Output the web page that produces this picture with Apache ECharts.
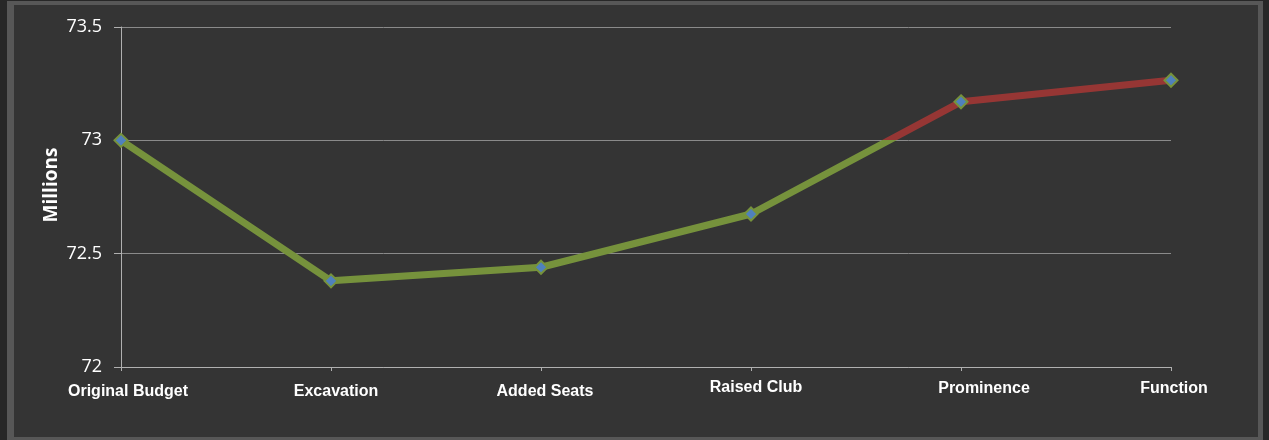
<!DOCTYPE html>
<html>
<head>
<meta charset="utf-8">
<script src="https://cdn.jsdelivr.net/npm/echarts@6/dist/echarts.min.js"></script>
<style>
html,body{margin:0;padding:0;background:#272727;}
#chart{width:1269px;height:440px;}
</style>
</head>
<body>
<div id="chart"></div>
<script>
const categories = ['Original Budget', 'Excavation', 'Added Seats', 'Raised Club', 'Prominence', 'Function'];
const budgetValues = [73.0, 72.38, 72.44, 72.675, 73.17, 73.265];
const yTicks = [72, 72.5, 73, 73.5];
const threshold = 73;

// label nudges (style only): [right shift, down shift] in px
const labelNudge = [[7, 4], [5, 4], [4, 4], [5, 0], [23, 1], [3, 1]];

const rich = {};
labelNudge.forEach(function (n, i) {
  rich['c' + i] = {
    color: '#ffffff', fontFamily: 'Liberation Sans', fontWeight: 'bold', fontSize: 16,
    padding: [n[1], 0, 0, n[0] * 2]
  };
});

const chart = echarts.init(document.getElementById('chart'));
chart.setOption({
  backgroundColor: '#272727',
  animation: false,
  graphic: [
    { type: 'rect', z: -10, shape: { x: 7, y: 1, width: 1256, height: 439 }, style: { fill: '#575757' } },
    { type: 'rect', z: -9, shape: { x: 14, y: 5, width: 1244, height: 432 }, style: { fill: '#343434' } },
    { type: 'text', x: 52, y: 185, rotation: Math.PI / 2,
      style: { text: 'Millions', fill: '#ffffff', font: 'bold 19px "Open Sans"', textAlign: 'center', textVerticalAlign: 'middle' } }
  ],
  grid: { left: 121, right: 98, top: 27, bottom: 73 },
  xAxis: {
    type: 'category',
    data: categories,
    boundaryGap: false,
    axisLine: { lineStyle: { color: '#b0b0b0', width: 1 } },
    axisTick: { show: true, length: 4, lineStyle: { color: '#b0b0b0' } },
    axisLabel: {
      color: '#ffffff', fontFamily: 'Liberation Sans', fontWeight: 'bold', fontSize: 16, margin: 13,
      formatter: function (v, i) { return '{c' + i + '|' + v + '}'; },
      rich: rich
    },
    splitLine: { show: false }
  },
  yAxis: {
    type: 'value',
    min: yTicks[0],
    max: yTicks[yTicks.length - 1],
    interval: 0.5,
    axisLine: { show: true, lineStyle: { color: '#b0b0b0', width: 1 } },
    axisTick: { show: true, length: 7, lineStyle: { color: '#b0b0b0' } },
    axisLabel: { color: '#ffffff', fontFamily: 'Open Sans', fontSize: 18, margin: 19 },
    splitLine: { show: true, lineStyle: { color: '#8a8a8a', width: 1 } }
  },
  series: [
    {
      type: 'line',
      data: budgetValues,
      symbol: 'none',
      lineStyle: { width: 7, color: '#76923c' },
      z: 2
    },
    {
      type: 'line',
      data: budgetValues,
      symbol: 'diamond',
      symbolSize: 13,
      lineStyle: { width: 0, opacity: 0 },
      itemStyle: { color: '#4f81bd', borderColor: '#76923c', borderWidth: 2 },
      z: 3
    }
  ]
});

// Split colour at the threshold using the chart's own scale
const yTop = chart.convertToPixel({ yAxisIndex: 0 }, yTicks[yTicks.length - 1]);
const yBottom = chart.convertToPixel({ yAxisIndex: 0 }, yTicks[0]);
const yThr = chart.convertToPixel({ yAxisIndex: 0 }, threshold);
const off = (yThr - yTop) / (yBottom - yTop);
chart.setOption({
  series: [{
    lineStyle: {
      color: {
        type: 'linear', global: true, x: 0, y: yTop, x2: 0, y2: yBottom,
        colorStops: [
          { offset: 0, color: '#963634' },
          { offset: off, color: '#963634' },
          { offset: off, color: '#76923c' },
          { offset: 1, color: '#76923c' }
        ]
      }
    }
  }]
});
</script>
</body>
</html>
